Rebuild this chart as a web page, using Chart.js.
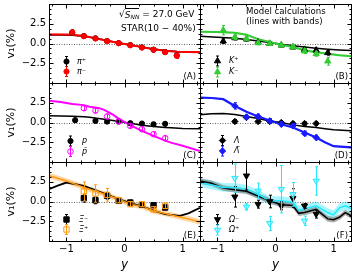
<!DOCTYPE html>
<html><head><meta charset="utf-8">
<script src="https://cdn.jsdelivr.net/npm/chart.js@4.4.1/dist/chart.umd.min.js"></script>
<style>
html,body{margin:0;padding:0;background:#fff;}
#wrap{position:relative;width:357px;height:276px;overflow:hidden;font-family:"DejaVu Sans",sans-serif;color:#000;background:#fff;}
#wrap canvas{position:absolute;z-index:1;}
.t{position:absolute;white-space:nowrap;line-height:1;font-family:"DejaVu Sans",sans-serif;z-index:2;color:#000;}
</style></head><body>
<div id="wrap">
<div class="t" style="left:119px;top:10px;font-size:9px;">√<span style="border-top:0.8px solid #000;padding-top:0.5px;"><i>S</i><span style="font-size:6px;position:relative;top:2px;"><i>NN</i></span></span> = 27.0 GeV</div>
<div class="t" style="left:121px;top:24px;font-size:9px;">STAR(10 − 40%)</div>
<div class="t" style="left:246px;top:6.5px;font-size:8.6px;">Model calculations</div>
<div class="t" style="left:246px;top:17px;font-size:8.6px;">(lines with bands)</div>
<div class="t" style="right:161px;top:71.5px;font-size:8.6px;">(A)</div>
<div class="t" style="right:9px;top:71.5px;font-size:8.6px;">(B)</div>
<div class="t" style="right:161px;top:151px;font-size:8.6px;">(C)</div>
<div class="t" style="right:9px;top:151px;font-size:8.6px;">(D)</div>
<div class="t" style="right:161px;top:230.5px;font-size:8.6px;">(E)</div>
<div class="t" style="right:9px;top:230.5px;font-size:8.6px;">(F)</div>
</div>
<script>
// ================= DATA =================
const X_TICKS = [-1, 0, 1];
const Y_TICKS = [-2.5, 0, 2.5];
const Y_TITLE = 'v₁(%)';
const X_TITLE = 'y';

const rap10 = [-0.9,-0.7,-0.5,-0.3,-0.1,0.1,0.3,0.5,0.7,0.9];
const rap8  = [-0.7,-0.5,-0.3,-0.1,0.1,0.3,0.5,0.7];

// (A) pions
const piPlusV1   = [1.38,0.95,0.66,0.31,0.05,-0.20,-0.49,-0.78,-1.07,-1.50];
const piPlusErr  = [0.22,0.16,0.15,0.15,0.15,0.15,0.15,0.15,0.16,0.22];
const piMinusV1  = [1.43,0.92,0.63,0.29,0.04,-0.22,-0.51,-0.80,-1.10,-1.56];
const piMinusErr = [0.32,0.22,0.2,0.2,0.2,0.2,0.2,0.2,0.22,0.32];
const modelRapA  = [-1.3,-1.1,-0.9,-0.7,-0.5,-0.3,-0.1,0.1,0.3,0.5,0.7,0.9,1.1,1.3];
const piPlusModel  = [1.08,1.08,1.05,0.92,0.68,0.38,0.08,-0.18,-0.44,-0.70,-0.90,-1.02,-1.08,-1.12];
const piMinusModel = [1.14,1.14,1.10,0.95,0.66,0.35,0.06,-0.18,-0.46,-0.74,-0.93,-1.04,-1.08,-1.10];
const piMinusBand  = [0.12,0.12,0.12,0.12,0.12,0.12,0.12,0.12,0.12,0.12,0.12,0.12,0.12,0.12];

// (B) kaons
const kPlusV1   = [0.29,0.70,0.55,0.16,0.00,-0.22,-0.47,-0.76,-0.85,-1.18];
const kPlusErr  = [0.3,0.25,0.25,0.2,0.2,0.2,0.2,0.25,0.25,0.3];
const kMinusV1  = [1.69,0.80,0.63,0.08,0.00,-0.21,-0.42,-0.97,-1.31,-2.24];
const kMinusErr = [0.6,0.3,0.3,0.25,0.2,0.2,0.25,0.3,0.3,0.5];
const modelRapB = [-1.3,-1.0,-0.7,-0.5,-0.3,-0.1,0.1,0.3,0.5,0.7,0.9,1.1,1.3];
const kPlusModel  = [0.93,0.80,0.65,0.50,0.32,0.12,-0.08,-0.28,-0.45,-0.60,-0.72,-0.82,-0.90];
const kMinusModel = [1.50,1.45,1.35,1.10,0.55,0.18,-0.15,-0.45,-0.85,-1.10,-1.30,-1.48,-1.60];
const kMinusBand  = [0.12,0.12,0.12,0.12,0.12,0.12,0.12,0.12,0.12,0.12,0.12,0.12,0.12];

// (C) protons
const pRap     = [-0.85,-0.5,-0.3,-0.1,0.1,0.3,0.5,0.7];
const pV1      = [0.29,0.20,0.12,0.12,-0.09,-0.13,-0.22,-0.17];
const pErr     = [0.25,0.2,0.2,0.2,0.2,0.2,0.2,0.2];
const pbarV1   = [1.81,1.52,0.76,0.13,-0.43,-0.85,-1.48,-1.99];
const pbarErr  = [0.3,0.3,0.3,0.25,0.25,0.3,0.3,0.3];
const modelRapC = [-1.3,-1.1,-0.9,-0.7,-0.6,-0.45,-0.35,-0.2,-0.1,0.1,0.3,0.5,0.7,0.8,1.0,1.3];
const pModel    = [0.84,0.82,0.80,0.72,0.66,0.52,0.42,0.26,0.13,-0.10,-0.34,-0.50,-0.63,-0.68,-0.75,-0.78];
const pbarModel = [2.75,2.60,2.35,2.20,2.00,1.85,1.60,1.00,0.50,-0.34,-1.06,-1.70,-2.30,-2.55,-2.95,-3.60];

// (D) lambdas
const lamV1    = [0.13,0.63,0.13,0.13,0.00,-0.13,-0.13,-0.13];
const lamErr   = [0.25,0.25,0.25,0.2,0.2,0.2,0.2,0.25];
const lbarV1   = [2.10,0.70,0.76,0.20,-0.22,-0.43,-1.39,-1.90];
const lbarErr  = [0.4,0.3,0.3,0.3,0.3,0.3,0.3,0.3];
const modelRapD = [-1.3,-1.1,-0.9,-0.7,-0.5,-0.3,-0.1,0.1,0.3,0.5,0.7,0.85,1.0,1.3];
const lamModel  = [0.97,1.10,1.14,1.00,0.76,0.50,0.20,0.00,-0.30,-0.50,-0.63,-0.78,-0.92,-1.06];
const lbarModel = [3.16,3.10,2.95,2.10,1.35,0.76,0.25,-0.22,-0.63,-1.27,-1.90,-2.50,-3.00,-3.16];
const lbarBand  = [0.1,0.1,0.1,0.1,0.1,0.1,0.1,0.1,0.1,0.1,0.1,0.1,0.1,0.1];

// (E) xis
const xiMinusV1  = [0.42,0.16,0.71,0.08,-0.13,-0.42,-0.47,-0.76];
const xiMinusErr = [0.5,0.45,0.4,0.3,0.3,0.3,0.3,0.3];
const xiPlusV1   = [1.27,1.01,0.84,0.16,-0.34,-0.34,-1.00,-0.55];
const xiPlusErr  = [1.2,1.1,0.8,0.3,0.3,0.3,0.35,0.35];
const modelRapE  = [-1.3,-1.15,-1.0,-0.85,-0.7,-0.45,-0.1,0.1,0.3,0.5,0.7,0.95,1.1,1.3];
const xiMinusModel = [1.56,2.00,2.40,2.20,1.97,1.30,0.29,-0.20,-0.60,-1.15,-1.60,-1.82,-1.50,-0.80];
const xiPlusModel  = [3.25,2.95,2.60,2.20,1.77,1.20,0.29,-0.34,-0.63,-1.19,-1.52,-1.95,-2.20,-2.60];
const xiPlusBand   = [0.35,0.35,0.35,0.35,0.35,0.35,0.35,0.35,0.35,0.35,0.35,0.35,0.35,0.35];

// (F) omegas
const omMinusV1  = [0.59,3.25,-0.34,0.00,-0.55,0.42,-0.55,-1.60];
const omMinusErr = [1.3,1.8,0.5,0.8,0.5,1.2,0.3,0.5];
const omPlusV1   = [2.95,-0.68,1.34,-2.78,1.56,0.90,-2.45,2.60];
const omPlusErr  = [1.8,0.4,1.0,0.9,3.0,1.5,0.6,1.8];
const modelRapF  = [-1.3,-1.1,-0.9,-0.7,-0.5,-0.3,-0.1,0.1,0.3,0.4,0.5,0.7,0.9,1.0,1.1,1.2,1.3];
const omMinusModel = [2.60,2.30,1.70,1.50,1.30,0.70,0.10,-0.40,-0.50,-1.50,-1.40,-1.00,-2.20,-2.30,-2.00,-1.40,-1.80];
const omMinusBand  = [0.35,0.35,0.35,0.35,0.35,0.35,0.35,0.35,0.35,0.35,0.35,0.35,0.35,0.35,0.35,0.35,0.35];
const omPlusModel  = [2.40,2.10,1.77,1.77,1.56,0.90,0.10,0.10,-0.10,-1.10,-0.95,-0.55,-1.40,-1.70,-0.80,-0.55,-0.90];
const omPlusBand   = [0.55,0.55,0.55,0.55,0.55,0.55,0.55,0.55,0.55,0.55,0.55,0.55,0.55,0.55,0.55,0.55,0.55];

// ================= HELPERS =================
const FONT = '"DejaVu Sans", sans-serif';
const wrap = document.getElementById('wrap');
const GEOM = {cols:[[49,200],[200,351]], rows:[[4,83],[83,162],[162,241]]};

function pts(xs, ys){ return xs.map((x,i)=>({x:x, y:ys[i]})); }
function markers(label, xs, ys, errs, o){
  return {label, data:pts(xs,ys), errs, showLine:false, order:o.order||5,
    pointStyle:o.style, pointRadius:o.r, pointRotation:o.rot||0,
    pointBackgroundColor:o.fill, pointBorderColor:o.color, pointBorderWidth:o.bw||1,
    borderColor:o.color, backgroundColor:o.fill, errColor:o.color, clip:0};
}
function line(xs, ys, color, w, order){
  return {data:pts(xs,ys), borderColor:color, borderWidth:w, pointRadius:0, fill:false,
          tension:0, order:order||20, clip:0};
}
function band(xs, ys, half, color, order){
  const up = xs.map((x,i)=>({x:x, y:ys[i]+half[i]}));
  const lo = xs.map((x,i)=>({x:x, y:ys[i]-half[i]}));
  return [
    {data:up, borderWidth:0, borderColor:'rgba(0,0,0,0)', pointRadius:0, fill:'+1', backgroundColor:color, order:order||30, clip:0},
    {data:lo, borderWidth:0, borderColor:'rgba(0,0,0,0)', pointRadius:0, fill:false, order:order||30, clip:0}
  ];
}
function fmtY(v){ return v===0 ? '0.0' : (v<0?'−':'') + Math.abs(v).toFixed(1); }
function fmtX(v){ return v<0 ? '−'+Math.abs(v) : String(v); }

const errPlugin = {
  id:'errbars',
  beforeDatasetDraw(chart, args){
    const ds = chart.data.datasets[args.index];
    if(!ds.errs) return;
    const ctx = chart.ctx, ys = chart.scales.y, ca = chart.chartArea;
    ctx.save();
    ctx.beginPath(); ctx.rect(ca.left, ca.top, ca.right-ca.left, ca.bottom-ca.top); ctx.clip();
    ctx.strokeStyle = ds.errColor; ctx.lineWidth = 1;
    args.meta.data.forEach((el,i)=>{
      const v = ds.data[i].y, e = ds.errs[i];
      const x = Math.round(el.x)+0.5;
      const y1 = ys.getPixelForValue(v+e), y2 = ys.getPixelForValue(v-e);
      ctx.beginPath();
      ctx.moveTo(x,y1); ctx.lineTo(x,y2);
      ctx.moveTo(x-1.5,y1); ctx.lineTo(x+1.5,y1);
      ctx.moveTo(x-1.5,y2); ctx.lineTo(x+1.5,y2);
      ctx.stroke();
    });
    ctx.restore();
  }
};

function drawMarker(ctx, ds, x, y){
  ctx.save();
  ctx.fillStyle = ds.pointBackgroundColor; ctx.strokeStyle = ds.pointBorderColor;
  ctx.lineWidth = ds.pointBorderWidth;
  Chart.helpers.drawPoint(ctx, {pointStyle:ds.pointStyle, radius:ds.pointRadius, rotation:ds.pointRotation, borderWidth:ds.pointBorderWidth}, x, y);
  ctx.restore();
}

const decoPlugin = {
  id:'deco',
  beforeDatasetsDraw(chart){
    const ctx = chart.ctx, ca = chart.chartArea, ys = chart.scales.y;
    const y0 = Math.round(ys.getPixelForValue(0))+0.5;
    ctx.save();
    ctx.strokeStyle = '#444'; ctx.lineWidth = 0.8; ctx.setLineDash([1,1.5]);
    ctx.beginPath(); ctx.moveTo(ca.left, y0); ctx.lineTo(ca.right, y0); ctx.stroke();
    ctx.restore();
  },
  afterDatasetsDraw(chart, args, opts){
    const ctx = chart.ctx, ca = chart.chartArea, xs = chart.scales.x, ys = chart.scales.y;
    ctx.save();
    ctx.strokeStyle = '#000'; ctx.lineWidth = 1;
    ctx.strokeRect(ca.left+0.5, ca.top+0.5, ca.right-ca.left, ca.bottom-ca.top);
    ctx.beginPath();
    for(let k=-5;k<=5;k++){
      const v = k*0.25; if(v< -1.3 || v>1.3) continue;
      const major = X_TICKS.includes(v);
      const L = major?4:2;
      const px = Math.round(xs.getPixelForValue(v))+0.5;
      ctx.moveTo(px, ca.bottom+0.5); ctx.lineTo(px, ca.bottom+0.5-L);
      ctx.moveTo(px, ca.top+0.5); ctx.lineTo(px, ca.top+0.5+L);
    }
    for(let k=-8;k<=8;k++){
      const v = k*0.625; if(v<=-5 || v>=5) continue;
      const major = Y_TICKS.includes(v);
      const L = major?4:2;
      const py = Math.round(ys.getPixelForValue(v))+0.5;
      ctx.moveTo(ca.left+0.5, py); ctx.lineTo(ca.left+0.5+L, py);
      ctx.moveTo(ca.right+0.5, py); ctx.lineTo(ca.right+0.5-L, py);
    }
    ctx.stroke();
    if(opts && opts.entries){
      const ox = opts.canvasLeft, oy = opts.canvasTop;
      opts.entries.forEach((en, j)=>{
        const ds = chart.data.datasets[en.ds];
        const mx = opts.mx - ox, my = opts.ys[j] - oy;
        ctx.strokeStyle = ds.errColor; ctx.lineWidth = 1;
        ctx.beginPath();
        ctx.moveTo(Math.round(mx)+0.5, my-5); ctx.lineTo(Math.round(mx)+0.5, my+5);
        ctx.moveTo(Math.round(mx)-1, my-5); ctx.lineTo(Math.round(mx)+2, my-5);
        ctx.moveTo(Math.round(mx)-1, my+5); ctx.lineTo(Math.round(mx)+2, my+5);
        ctx.stroke();
        drawMarker(ctx, ds, Math.round(mx)+0.5, my);
        ctx.fillStyle = '#000';
        ctx.font = 'italic 8px ' + FONT;
        ctx.textBaseline = 'middle'; ctx.textAlign = 'left';
        ctx.fillText(ds.label, opts.tx - ox, my);
      });
    }
    ctx.restore();
  }
};

function zeroPad(s){ s.paddingTop = 0; s.paddingBottom = 0; s.paddingLeft = 0; s.paddingRight = 0; }

function makePanel(col, row, datasets, legend){
  const [L,R] = GEOM.cols[col]; const [T,B] = GEOM.rows[row];
  const cl = col===0 ? 0 : L-2, ct = T-2, cr = R+2, cb = row===2 ? 276 : B+2;
  const cv = document.createElement('canvas');
  cv.width = cr-cl; cv.height = cb-ct;
  cv.style.left = cl+'px'; cv.style.top = ct+'px';
  cv.style.width = (cr-cl)+'px'; cv.style.height = (cb-ct)+'px';
  wrap.appendChild(cv);
  legend.canvasLeft = cl; legend.canvasTop = ct;
  new Chart(cv, {
    type:'line',
    data:{datasets},
    options:{
      responsive:false, animation:false, devicePixelRatio:1,
      layout:{autoPadding:false, padding:{left:0,right:2,top:2,bottom:0}},
      plugins:{legend:{display:false}, tooltip:{enabled:false}, deco:legend},
      scales:{
        x:{type:'linear', min:-1.3, max:1.3, display:true,
           grid:{display:false, drawTicks:false}, border:{display:false},
           afterBuildTicks:(s)=>{ s.ticks = X_TICKS.map(v=>({value:v})); },
           ticks:{display:row===2, callback:(v)=>fmtX(v), color:'#000', font:{family:FONT,size:10}, padding:2, maxRotation:0, autoSkip:false},
           title:{display:row===2, text:X_TITLE, color:'#000', font:{family:FONT,size:12,style:'italic'}, padding:{top:0,bottom:4}},
           afterFit:(s)=>{ s.height = cb - B; zeroPad(s); }
        },
        y:{type:'linear', min:-5, max:5, display:true,
           grid:{display:false, drawTicks:false}, border:{display:false},
           afterBuildTicks:(s)=>{ s.ticks = Y_TICKS.map(v=>({value:v})); },
           ticks:{display:col===0, callback:(v)=>fmtY(v), color:'#000', font:{family:FONT,size:10}, padding:3, autoSkip:false},
           title:{display:col===0, text:Y_TITLE, color:'#000', font:{family:FONT,size:11}, padding:{top:5,bottom:0}},
           afterFit:(s)=>{ s.width = L - cl; zeroPad(s); }
        }
      }
    },
    plugins:[errPlugin, decoPlugin]
  });
}

const BLACK='#000000', RED='#ff0000', GREEN='#33cc33', MAG='#ff00ff', BLUE='#1a1aff', ORANGE='#ff9911', CYAN='#22e8ff';

makePanel(0,0,[
  markers('π⁻', rap10, piMinusV1, piMinusErr, {style:'circle', r:2.6, color:RED, fill:RED, order:4}),
  markers('π⁺', rap10, piPlusV1, piPlusErr, {style:'circle', r:2.6, color:BLACK, fill:BLACK, order:6}),
  line(modelRapA, piMinusModel, RED, 2, 18),
  line(modelRapA, piPlusModel, BLACK, 1.5, 20),
  ...band(modelRapA, piMinusModel, piMinusBand, 'rgba(255,0,0,0.3)', 30)
], {mx:66, tx:77, ys:[61.5,71.5], entries:[{ds:1},{ds:0}]});

makePanel(1,0,[
  markers('K⁻', rap10, kMinusV1, kMinusErr, {style:'triangle', r:3.6, color:GREEN, fill:GREEN, order:4}),
  markers('K⁺', rap10, kPlusV1, kPlusErr, {style:'triangle', r:3.6, color:BLACK, fill:BLACK, order:6}),
  line(modelRapB, kMinusModel, GREEN, 2, 18),
  line(modelRapB, kPlusModel, BLACK, 1.5, 20),
  ...band(modelRapB, kMinusModel, kMinusBand, 'rgba(51,204,51,0.3)', 30)
], {mx:216.5, tx:229, ys:[61,72], entries:[{ds:1},{ds:0}]});

makePanel(0,1,[
  markers('p̄', rap8, pbarV1, pbarErr, {style:'circle', r:2.8, color:MAG, fill:'rgba(255,255,255,0)', order:4}),
  markers('p', pRap, pV1, pErr, {style:'circle', r:2.6, color:BLACK, fill:BLACK, order:6}),
  line(modelRapC, pbarModel, MAG, 2, 18),
  line(modelRapC, pModel, BLACK, 1.5, 20)
], {mx:70, tx:82, ys:[141,151.5], entries:[{ds:1},{ds:0}]});

makePanel(1,1,[
  markers('Λ̄', rap8, lbarV1, lbarErr, {style:'rectRot', r:3.2, color:BLUE, fill:BLUE, order:4}),
  markers('Λ', rap8, lamV1, lamErr, {style:'rectRot', r:3.2, color:BLACK, fill:BLACK, order:6}),
  line(modelRapD, lbarModel, BLUE, 2.2, 18),
  line(modelRapD, lamModel, BLACK, 1.5, 20),
  ...band(modelRapD, lbarModel, lbarBand, 'rgba(26,26,255,0.3)', 30)
], {mx:221.5, tx:234, ys:[140.5,151], entries:[{ds:1},{ds:0}]});

makePanel(0,2,[
  markers('Ξ⁺', rap8, xiPlusV1, xiPlusErr, {style:'rect', r:3.8, color:ORANGE, fill:'rgba(255,255,255,0)', order:4}),
  markers('Ξ⁻', rap8, xiMinusV1, xiMinusErr, {style:'rect', r:3.8, color:BLACK, fill:BLACK, order:6}),
  line(modelRapE, xiPlusModel, ORANGE, 1.5, 18),
  line(modelRapE, xiMinusModel, BLACK, 1.8, 20),
  ...band(modelRapE, xiPlusModel, xiPlusBand, 'rgba(255,170,60,0.45)', 30)
], {mx:66, tx:79, ys:[219.5,229.5], entries:[{ds:1},{ds:0}]});

makePanel(1,2,[
  markers('Ω⁺', rap8, omPlusV1, omPlusErr, {style:'triangle', r:3.6, rot:180, color:CYAN, fill:'rgba(120,240,255,0.6)', order:4}),
  markers('Ω⁻', rap8, omMinusV1, omMinusErr, {style:'triangle', r:3.6, rot:180, color:BLACK, fill:BLACK, order:6}),
  line(modelRapF, omPlusModel, CYAN, 1.5, 18),
  line(modelRapF, omMinusModel, BLACK, 1.5, 20),
  ...band(modelRapF, omMinusModel, omMinusBand, 'rgba(110,110,110,0.55)', 30),
  ...band(modelRapF, omPlusModel, omPlusBand, 'rgba(0,230,255,0.35)', 32)
], {mx:216.5, tx:229, ys:[219.5,230], entries:[{ds:1},{ds:0}]});
</script>
</body></html>
